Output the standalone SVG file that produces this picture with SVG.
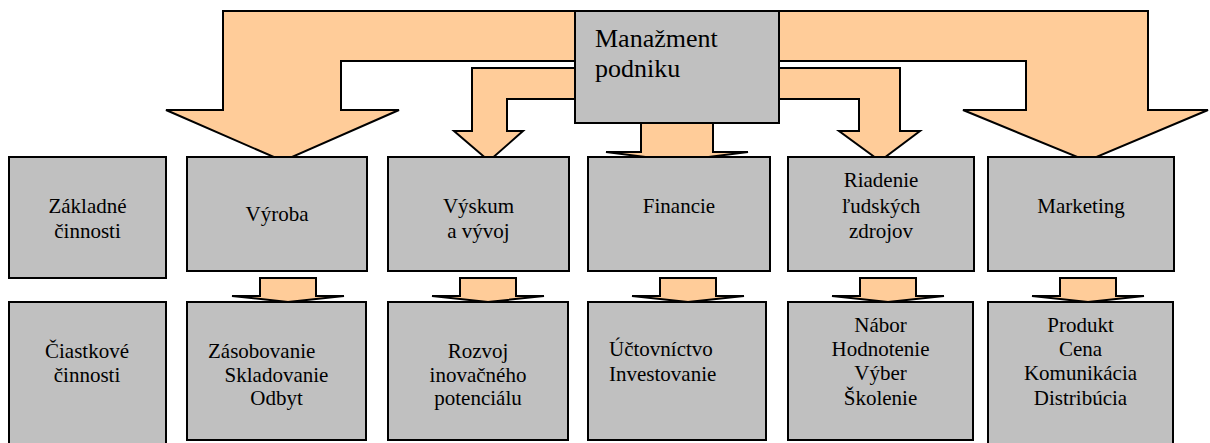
<svg xmlns="http://www.w3.org/2000/svg" width="1210" height="443" viewBox="0 0 1210 443" font-family="'Liberation Serif', 'Times New Roman', 'DejaVu Serif', serif">
<style>
.arr{fill:#FFCC99;stroke:#000;stroke-width:2;stroke-linejoin:miter}
.box{fill:#C0C0C0;stroke:#000;stroke-width:2}
text{font-family:'Liberation Serif','Times New Roman','DejaVu Serif',serif;font-size:21px;fill:#000}
.c{text-anchor:middle}
.big{font-size:26px}
</style>
<rect width="1210" height="443" fill="#fff"/>
<g id="connectors">
<polygon class="arr" points="677,11 223,11 223,110 166,110 283,161 399,110 341,110 341,61 677,61"/>
<polygon class="arr" points="677,11 1148,11 1148,110 1208,110 1087,161 963,110 1026,110 1026,61 677,61"/>
<polygon class="arr" points="677,68 472,68 472,131 454,131 489,161 523,131 507,131 507,99 677,99"/>
<polygon class="arr" points="677,68 900,68 900,131 920,131 880,161 839,131 859,131 859,99 677,99"/>
<polygon class="arr" points="641,100 641,152 606,152 677,161 748,152 713,152 713,100"/>
<polygon class="arr" points="260,278 316,278 316,296 344,296 288,302 232,296 260,296"/>
<polygon class="arr" points="460,278 516,278 516,296 544,296 488,302 432,296 460,296"/>
<polygon class="arr" points="660,278 716,278 716,296 744,296 688,302 632,296 660,296"/>
<polygon class="arr" points="860,278 916,278 916,296 944,296 888,302 832,296 860,296"/>
<polygon class="arr" points="1060,278 1116,278 1116,296 1144,296 1088,302 1032,296 1060,296"/>
</g>
<g id="manazment">
<rect class="box" x="575" y="11" width="204" height="112"/>
<text class="big" x="595" y="47">Manažment</text>
<text class="big" x="595" y="77">podniku</text>
</g>
<g id="zakladne">
<rect class="box" x="9" y="157" width="157" height="121"/>
<text class="c" x="87.5" y="213">Základné</text>
<text class="c" x="87.5" y="238">činnosti</text>
</g>
<g id="vyroba">
<rect class="box" x="187" y="157" width="180" height="114"/>
<text class="c" x="277" y="221">Výroba</text>
</g>
<g id="vyskum">
<rect class="box" x="388" y="157" width="181" height="114"/>
<text class="c" x="478.5" y="213">Výskum</text>
<text class="c" x="478.5" y="238">a vývoj</text>
</g>
<g id="financie">
<rect class="box" x="588" y="157" width="182" height="114"/>
<text class="c" x="679" y="213">Financie</text>
</g>
<g id="riadenie">
<rect class="box" x="788" y="157" width="186" height="114"/>
<text class="c" x="881" y="187">Riadenie</text>
<text class="c" x="881" y="213">ľudských</text>
<text class="c" x="881" y="238">zdrojov</text>
</g>
<g id="marketing">
<rect class="box" x="988" y="157" width="186" height="114"/>
<text class="c" x="1081" y="213">Marketing</text>
</g>
<g id="ciastkove">
<rect class="box" x="9" y="302" width="157" height="150"/>
<text class="c" x="87" y="358">Čiastkové</text>
<text class="c" x="87" y="382">činnosti</text>
</g>
<g id="zasobovanie">
<rect class="box" x="187" y="302" width="179" height="138"/>
<text x="208" y="358">Zásobovanie</text>
<text class="c" x="276.5" y="382">Skladovanie</text>
<text class="c" x="276.5" y="405">Odbyt</text>
</g>
<g id="rozvoj">
<rect class="box" x="388" y="302" width="180" height="138"/>
<text class="c" x="478" y="358">Rozvoj</text>
<text class="c" x="478" y="382">inovačného</text>
<text class="c" x="478" y="405">potenciálu</text>
</g>
<g id="uctovnictvo">
<rect class="box" x="588" y="302" width="178" height="138"/>
<text x="609" y="356">Účtovníctvo</text>
<text x="609" y="381">Investovanie</text>
</g>
<g id="nabor">
<rect class="box" x="788" y="302" width="185" height="138"/>
<text class="c" x="880.5" y="332">Nábor</text>
<text class="c" x="880.5" y="356">Hodnotenie</text>
<text class="c" x="880.5" y="380">Výber</text>
<text class="c" x="880.5" y="405">Školenie</text>
</g>
<g id="produkt">
<rect class="box" x="988" y="302" width="185" height="150"/>
<text class="c" x="1080.5" y="332">Produkt</text>
<text class="c" x="1080.5" y="356">Cena</text>
<text class="c" x="1080.5" y="380">Komunikácia</text>
<text class="c" x="1080.5" y="405">Distribúcia</text>
</g>
</svg>
